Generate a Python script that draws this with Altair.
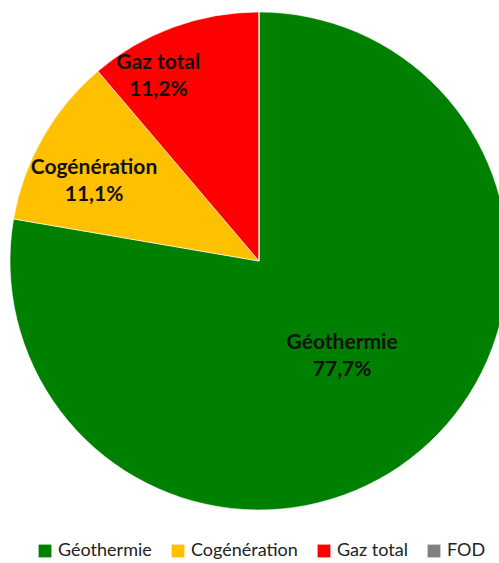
import altair as alt
import pandas as pd

categories = ["Géothermie", "Cogénération", "Gaz total", "FOD"]
values = [77.7, 11.1, 11.2, 0.0]
colors = ["#008000", "#FFC000", "#FF0000", "#808080"]

df = pd.DataFrame({"cat": categories, "val": values, "idx": list(range(len(categories)))})

arc = alt.Chart(df).mark_arc(stroke="white", strokeWidth=0.6).encode(
    theta=alt.Theta("val:Q", stack=True),
    order=alt.Order("idx:Q"),
    color=alt.Color(
        "cat:N",
        scale=alt.Scale(domain=categories, range=colors),
        sort=categories,
        legend=alt.Legend(
            title=None,
            orient="none",
            legendX=36,
            legendY=542,
            direction="horizontal",
            columns=4,
            symbolType="square",
            symbolSize=165,
            symbolStrokeWidth=0,
            labelFont="Lato",
            labelFontSize=18,
            labelColor="#222222",
            labelOffset=4,
            columnPadding=17,
        ),
    ),
    x=alt.value(259),
    y=alt.value(261),
    radius=alt.value(249),
)

def label_layer(name, r, dx=0, dy=0):
    return alt.Chart(df).transform_calculate(
        label="datum.cat + '\\n' + replace(format(datum.val, '.1f'), '.', ',') + '%'"
    ).transform_joinaggregate(total="sum(val)").transform_window(
        cum="sum(val)", sort=[alt.SortField("idx")], frame=[None, 0]
    ).transform_calculate(
        mid="(datum.cum - datum.val/2) / datum.total * 2 * PI"
    ).transform_filter(alt.datum.cat == name).mark_text(
        font="Lato", fontWeight="bold", fontSize=21, lineBreak="\n",
        lineHeight=27, color="#111111", dx=dx, dy=dy, baseline="middle",
    ).encode(
        theta=alt.Theta("mid:Q", scale=alt.Scale(domain=[0, 6.283185307179586], range=[0, 6.283185307179586])),
        text="label:N",
        x=alt.value(259),
        y=alt.value(261),
        radius=alt.value(r),
    )

labels = [
    label_layer("Géothermie", 115, dx=9, dy=-6),
    label_layer("Cogénération", 183, dx=-6, dy=-2),
    label_layer("Gaz total", 211, dx=-28, dy=0),
]

chart = alt.layer(arc, *labels).resolve_scale(theta="independent").properties(
    width=499, height=563, autosize=alt.AutoSizeParams(type="none"), padding=0
).configure_view(stroke=None)

chart.save("out.html", embed_options={"renderer": "svg", "actions": False})
